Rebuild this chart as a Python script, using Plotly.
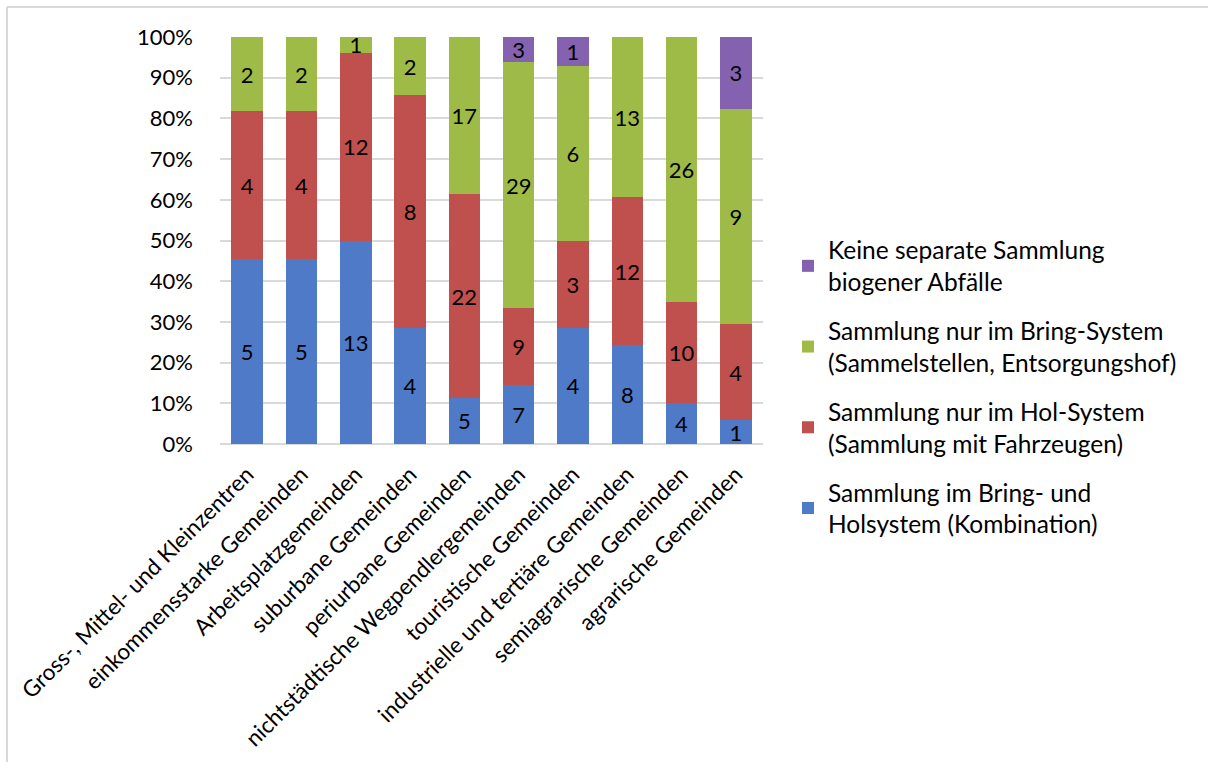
import plotly.graph_objects as go

categories = [
    "Gross-, Mittel- und Kleinzentren",
    "einkommensstarke Gemeinden",
    "Arbeitsplatzgemeinden",
    "suburbane Gemeinden",
    "periurbane Gemeinden",
    "nichtstädtische Wegpendlergemeinden",
    "touristische Gemeinden",
    "industrielle und tertiäre Gemeinden",
    "semiagrarische Gemeinden",
    "agrarische Gemeinden",
]
kombination = [5, 5, 13, 4, 5, 7, 4, 8, 4, 1]
hol_system = [4, 4, 12, 8, 22, 9, 3, 12, 10, 4]
bring_system = [2, 2, 1, 2, 17, 29, 6, 13, 26, 9]
keine = [0, 0, 0, 0, 0, 3, 1, 0, 0, 3]

series = [
    ("Sammlung im Bring- und<br>Holsystem (Kombination)", kombination, "#4E7AC8"),
    ("Sammlung nur im Hol-System<br>(Sammlung mit Fahrzeugen)", hol_system, "#C0504D"),
    ("Sammlung nur im Bring-System<br>(Sammelstellen, Entsorgungshof)", bring_system, "#9FBB47"),
    ("Keine separate Sammlung<br>biogener Abfälle", keine, "#8462AF"),
]

FONT = "Lato, Carlito, Calibri, sans-serif"
FS = 22
FS_X = 22.5
FS_LEG = 24.5

fig = go.Figure()
n = len(series)
for i, (name, vals, color) in enumerate(series):
    fig.add_trace(go.Bar(
        x=categories, y=vals, name=name,
        marker=dict(color=color, line=dict(width=0)),
        text=[str(v) if v else "" for v in vals],
        textposition="inside", insidetextanchor="middle", textangle=0,
        textfont=dict(family=FONT, size=FS, color="black"),
        legendgroup=f"g{i}", legendrank=n - i,
    ))

L, R, T, B = 220, 763, 37, 444
W, H = 1208, 762
pw, ph = R - L, B - T
def px(x):
    return (x - L) / pw
def py(y):
    return (B - y) / ph

fig.update_layout(
    width=W, height=H,
    barmode="stack", barnorm="percent", bargap=0.42,
    margin=dict(l=L, r=W - R, t=T, b=H - B, pad=0),
    paper_bgcolor="white", plot_bgcolor="white",
    font=dict(family=FONT, size=FS, color="black"),
    uniformtext=dict(minsize=FS, mode="show"),
    showlegend=True,
    legend=dict(
        x=px(788), xanchor="left", y=py(387), yanchor="middle",
        traceorder="grouped", tracegroupgap=14,
        font=dict(family=FONT, size=FS_LEG, color="black"),
        itemwidth=30, bgcolor="rgba(0,0,0,0)",
    ),
    xaxis=dict(
        type="category", tickangle=-45, showgrid=False,
        showline=False, ticks="", ticklabelstandoff=12,
        tickfont=dict(family=FONT, size=FS_X),
    ),
    yaxis=dict(
        range=[0, 100], dtick=10, ticksuffix="%",
        showgrid=True, gridcolor="#D9D9D9", gridwidth=2,
        zeroline=True, zerolinecolor="#D9D9D9", zerolinewidth=2,
        showline=False, ticks="", ticklabelstandoff=26,
        tickfont=dict(family=FONT, size=FS),
    ),
)

# outer chart frame (light grey), extends beyond right/bottom edges
fig.add_shape(type="line", xref="paper", yref="paper",
              x0=px(7), x1=px(W + 5), y0=py(7), y1=py(7),
              line=dict(color="#D9D9D9", width=2))
fig.add_shape(type="line", xref="paper", yref="paper",
              x0=px(7), x1=px(7), y0=py(7), y1=py(H + 5),
              line=dict(color="#D9D9D9", width=2))

fig.write_html("out.html")
